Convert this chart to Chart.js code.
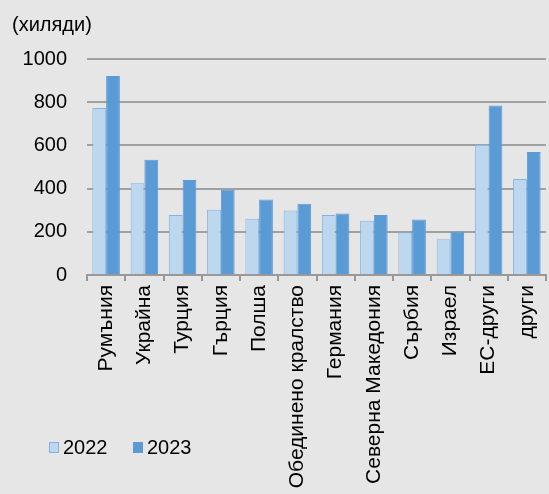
<!DOCTYPE html>
<html>
<head>
<meta charset="utf-8">
<script src="https://cdn.jsdelivr.net/npm/chart.js@4/dist/chart.umd.min.js"></script>
<style>
  html, body { margin: 0; padding: 0; background: #e6e6e6; }
  #wrap { width: 549px; height: 494px; position: relative; }
</style>
</head>
<body>
<div id="wrap"><canvas id="c"></canvas></div>
<script>
const categories = ['Румъния', 'Украйна', 'Турция', 'Гърция', 'Полша', 'Обединено кралство', 'Германия', 'Северна Македония', 'Сърбия', 'Израел', 'ЕС-други', 'други'];
const values2022 = [773, 425, 278, 302, 260, 299, 278, 251, 197, 166, 603, 445];
const values2023 = [921, 533, 440, 395, 349, 330, 285, 278, 257, 200, 785, 569];
const seriesNames = ['2022', '2023'];
const yTicks = [0, 200, 400, 600, 800, 1000];
const unitLabel = '(хиляди)';

const FONT = '"Liberation Sans", Arial, sans-serif';

const legendPlugin = {
  id: 'customLegend',
  afterDraw(chart) {
    const ctx = chart.ctx;
    const pos = [{ x: 49, y: 442 }, { x: 133, y: 442 }];
    ctx.save();
    chart.data.datasets.forEach((ds, i) => {
      const p = pos[i];
      ctx.fillStyle = ds.backgroundColor;
      ctx.fillRect(p.x, p.y, 10, 11);
      ctx.strokeStyle = ds.borderColor;
      ctx.lineWidth = 1;
      ctx.strokeRect(p.x + 0.5, p.y + 0.5, 9, 10);
      ctx.fillStyle = '#000';
      ctx.font = '20px ' + FONT;
      ctx.textBaseline = 'middle';
      ctx.textAlign = 'left';
      ctx.fillText(ds.label, p.x + 14, p.y + 6.5);
    });
    ctx.restore();
  }
};

new Chart(document.getElementById('c'), {
  type: 'bar',
  data: {
    labels: categories,
    datasets: [
      { label: seriesNames[0], data: values2022, backgroundColor: '#bdd7ee', borderColor: '#85b4e0', borderWidth: 1, barPercentage: 1, categoryPercentage: 0.72 },
      { label: seriesNames[1], data: values2023, backgroundColor: '#5b9bd5', borderColor: '#5b9bd5', borderWidth: 1, barPercentage: 1, categoryPercentage: 0.72 }
    ]
  },
  plugins: [legendPlugin],
  options: {
    responsive: true,
    maintainAspectRatio: false,
    animation: false,
    layout: { padding: { left: 12, right: 3, top: 0, bottom: 0 } },
    plugins: {
      legend: { display: false },
      tooltip: { enabled: false },
      title: {
        display: true,
        text: unitLabel,
        align: 'start',
        color: '#000',
        font: { family: FONT, size: 20, weight: 'normal', lineHeight: 1.2 },
        padding: { top: 13, bottom: 22 }
      }
    },
    scales: {
      x: {
        grid: { display: true, drawOnChartArea: false, drawTicks: true, tickLength: 6, color: '#999', lineWidth: 2, offset: true },
        border: { display: true, color: '#999', width: 2 },
        ticks: { color: '#000', font: { family: FONT, size: 21 }, minRotation: 90, maxRotation: 90, autoSkip: false, padding: 4 },
        afterFit(scale) { scale.height = 219; scale.paddingRight = 0; scale.paddingLeft = 0; }
      },
      y: {
        min: 0,
        max: 1000,
        afterBuildTicks(scale) { scale.ticks = yTicks.map(v => ({ value: v })); },
        grid: { color: '#a0a0a0', lineWidth: 2, drawTicks: false },
        border: { display: false },
        ticks: { color: '#000', font: { family: FONT, size: 20 }, padding: 20, callback: (v) => String(v) },
        afterFit(scale) { scale.width = 75; }
      }
    }
  }
});
</script>
</body>
</html>
